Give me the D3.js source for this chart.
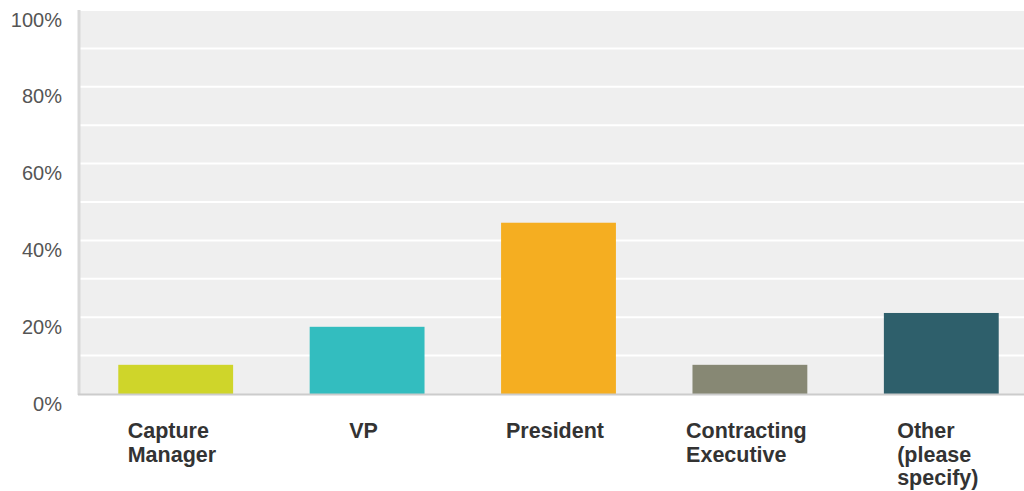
<!DOCTYPE html>
<html>
<head>
<meta charset="utf-8">
<script src="https://cdn.jsdelivr.net/npm/d3@7"></script>
<style>
  html, body { margin: 0; padding: 0; background: #fff; }
  svg { display: block; }
</style>
</head>
<body>
<svg id="chart" width="1024" height="491"></svg>
<script>
// Survey response shares by role
const categories = ["Capture Manager", "VP", "President", "Contracting Executive", "Other (please specify)"];
const labelLines = [["Capture", "Manager"], ["VP"], ["President"], ["Contracting", "Executive"], ["Other", "(please", "specify)"]];
const values = [7.6, 17.5, 44.6, 7.6, 21.1];
const colors = ["#cfd52a", "#33bdbf", "#f5ae21", "#878874", "#2e5f6b"];
const tickValues = [0, 20, 40, 60, 80, 100];
const tickLabels = ["0%", "20%", "40%", "60%", "80%", "100%"];

const svg = d3.select("#chart");
const plot = { left: 80, top: 10, bottom: 394, right: 1024 };

const x = d3.scaleBand()
  .domain(categories)
  .range([plot.left, 1037])
  .paddingInner(0.4)
  .paddingOuter(0.2);

const y = d3.scaleLinear()
  .domain([0, 100])
  .range([plot.bottom, plot.top]);

// Plot background
svg.append("rect")
  .attr("x", plot.left)
  .attr("y", plot.top)
  .attr("width", plot.right - plot.left)
  .attr("height", plot.bottom - plot.top)
  .attr("fill", "#efefef");

// Horizontal gridlines every 10%
svg.append("g")
  .selectAll("line")
  .data(d3.range(10, 101, 10))
  .join("line")
  .attr("x1", plot.left)
  .attr("x2", plot.right)
  .attr("y1", d => y(d))
  .attr("y2", d => y(d))
  .attr("stroke", "#ffffff")
  .attr("stroke-width", 2);

// Bars
svg.append("g")
  .selectAll("rect")
  .data(categories)
  .join("rect")
  .attr("x", d => x(d))
  .attr("width", x.bandwidth())
  .attr("y", (d, i) => y(values[i]))
  .attr("height", (d, i) => y(0) - y(values[i]))
  .attr("fill", (d, i) => colors[i]);

// Left axis edge and baseline
svg.append("line")
  .attr("x1", plot.left - 1).attr("x2", plot.left - 1)
  .attr("y1", plot.top).attr("y2", plot.bottom + 1)
  .attr("stroke", "#d9d9d9").attr("stroke-width", 3);
svg.append("line")
  .attr("x1", plot.left - 2).attr("x2", plot.right)
  .attr("y1", plot.bottom + 0.5).attr("y2", plot.bottom + 0.5)
  .attr("stroke", "#cccccc").attr("stroke-width", 2);

// Y axis labels
const yAxis = d3.axisLeft(y)
  .tickValues(tickValues)
  .tickFormat((d, i) => tickLabels[i])
  .tickSize(0)
  .tickPadding(0);
const yg = svg.append("g")
  .attr("transform", `translate(62,0)`)
  .call(yAxis);
yg.select(".domain").remove();
yg.selectAll("text")
  .attr("dy", null)
  .attr("y", 16)
  .attr("x", 0)
  .attr("fill", "#555")
  .style("font-family", "'Liberation Sans', Arial, sans-serif")
  .style("font-size", "20px");

// Category labels: left-aligned lines, block centred under each bar
const lab = svg.append("g")
  .style("font-family", "'Liberation Sans', Arial, sans-serif")
  .style("font-size", "21.5px")
  .style("font-weight", "bold")
  .attr("fill", "#333");

categories.forEach((c, i) => {
  const t = lab.append("text").attr("y", 438);
  labelLines[i].forEach((line, j) => {
    t.append("tspan").attr("x", 0).attr("dy", j === 0 ? 0 : 23.5).text(line);
  });
  const w = t.node().getBBox().width;
  const cx = x(c) + x.bandwidth() / 2 - 3.5;
  t.attr("transform", `translate(${cx - w / 2},0)`);
});
</script>
</body>
</html>
